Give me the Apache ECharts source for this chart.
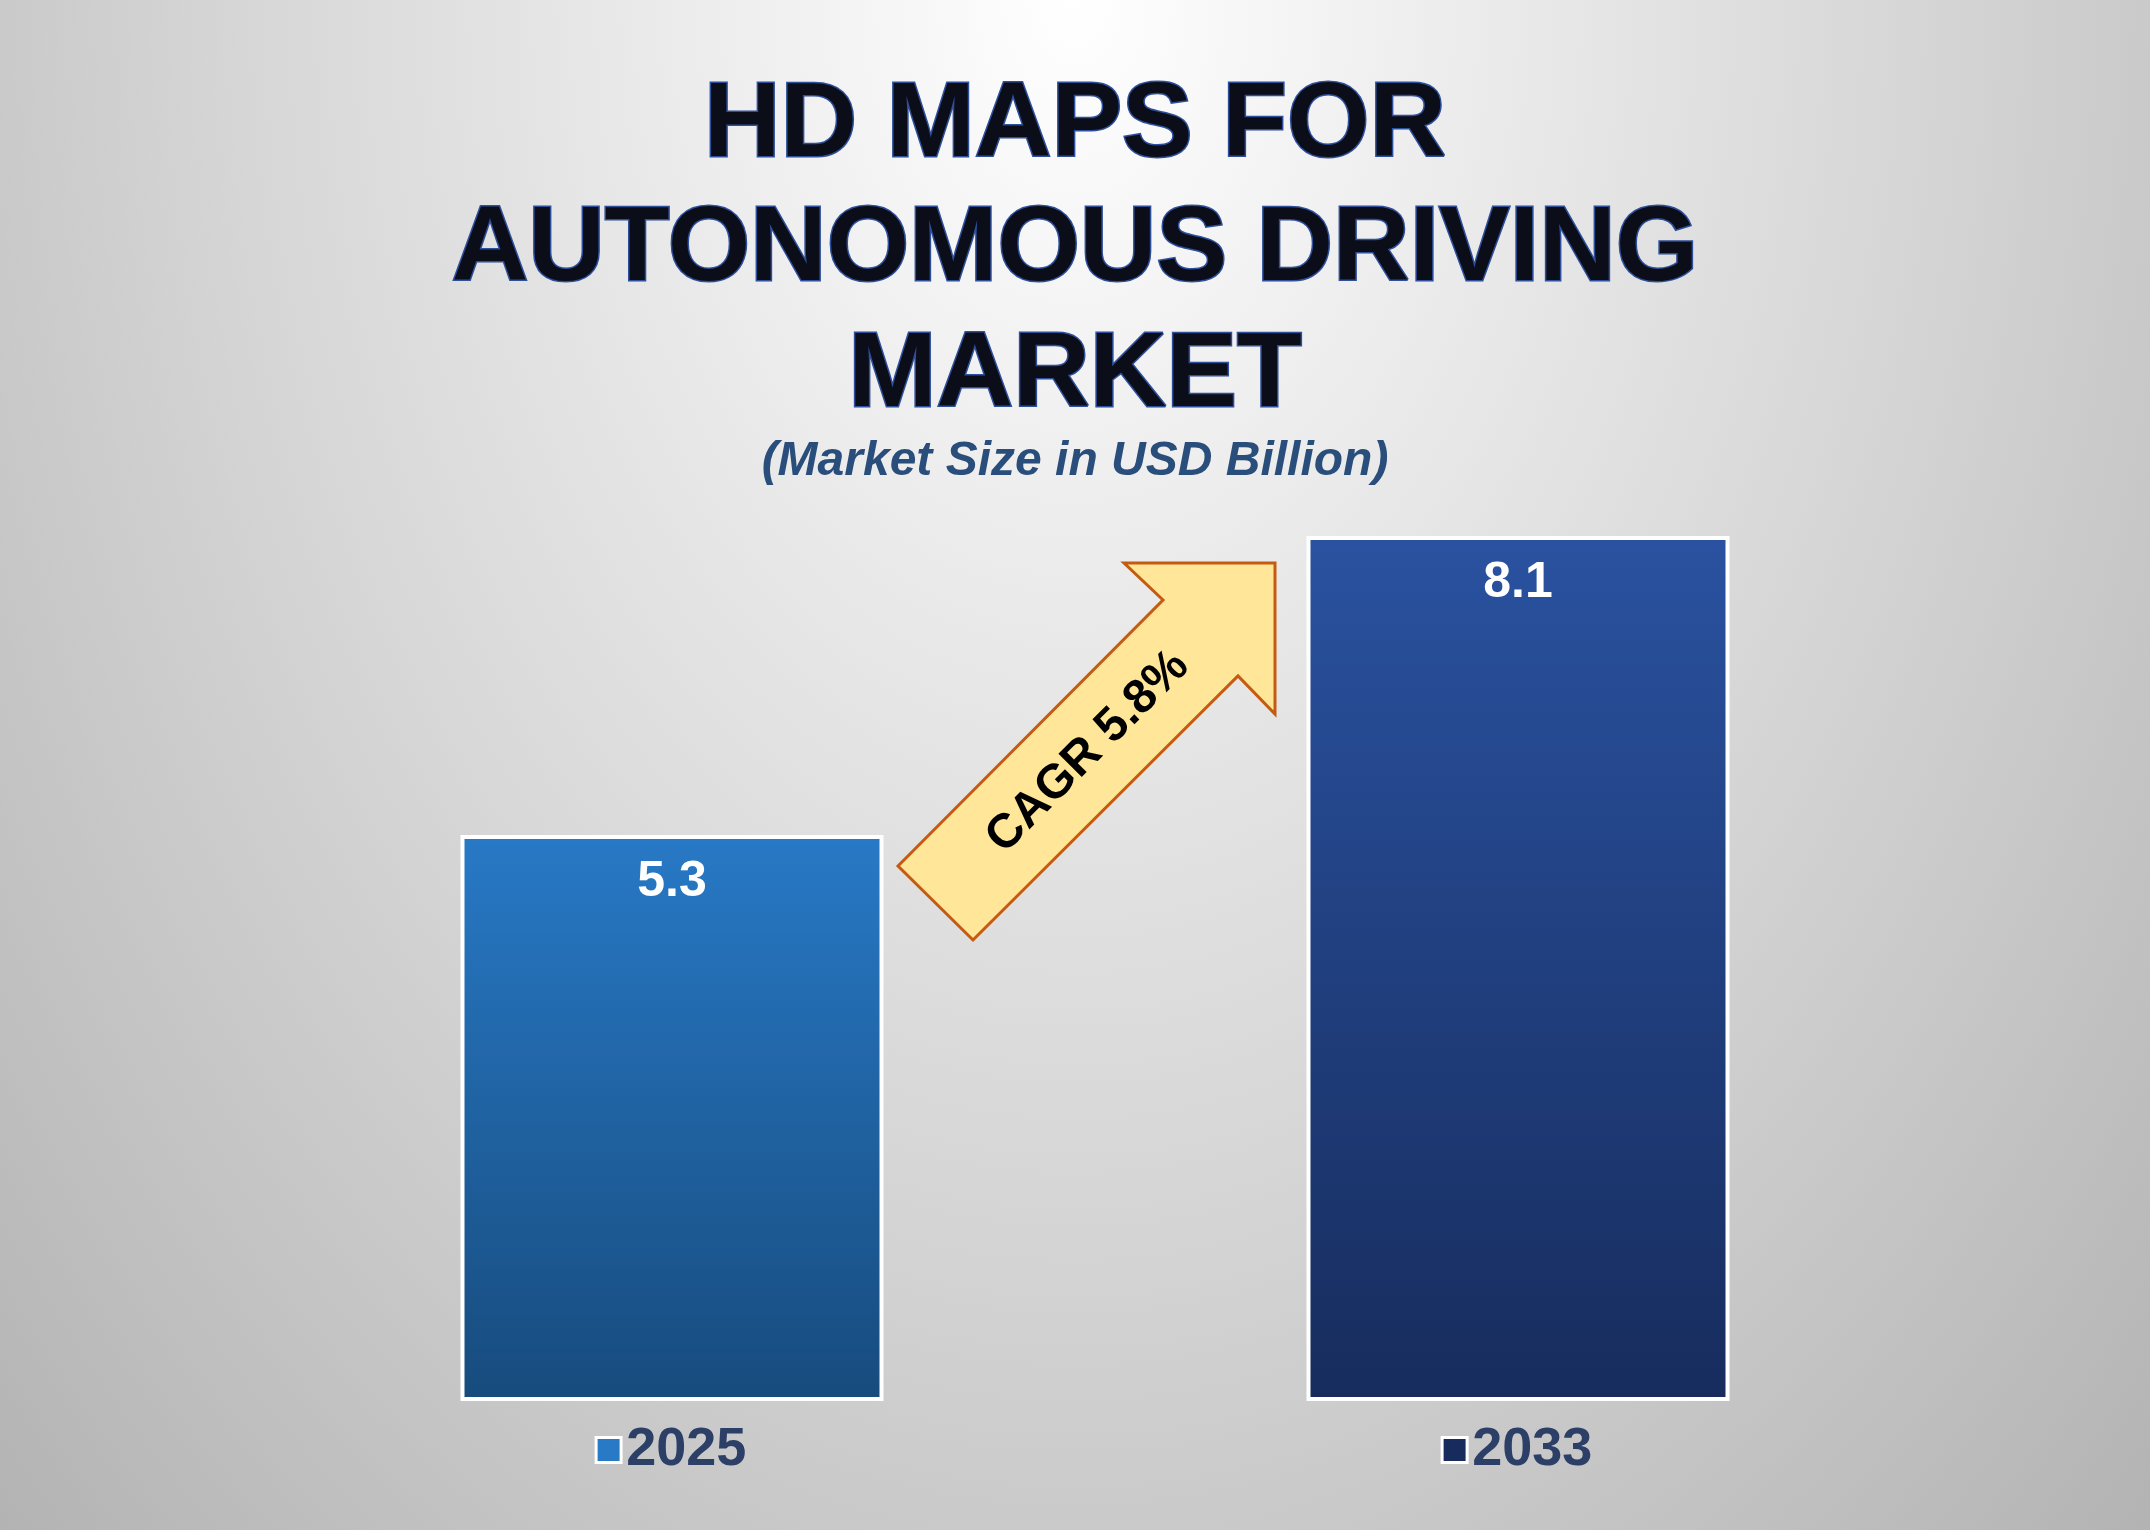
<!DOCTYPE html>
<html>
<head>
<meta charset="utf-8">
<script src="https://cdn.jsdelivr.net/npm/echarts@6/dist/echarts.min.js"></script>
<style>
  html, body { margin: 0; padding: 0; }
  body { background: radial-gradient(ellipse at 50% 0%, #ffffff 0%, #d6d6d6 55%, #b3b3b3 100%); }
  #chart { width: 2150px; height: 1530px; }
</style>
</head>
<body>
<div id="chart"></div>
<script>
// data
var years = ['2025', '2033'];
var marketSize = [5.3, 8.1];
var cagrText = 'CAGR 5.8%';

var barColors = [
  ['#2879c6', '#174b7d'],
  ['#2a52a0', '#172c5d']
];

var chart = echarts.init(document.getElementById('chart'), null, { renderer: 'canvas' });

var titleStyle = {
  fontFamily: 'Liberation Sans, Arial, sans-serif',
  fontWeight: 'bold',
  fontSize: 106,
  fill: '#0b0d18',
  stroke: '#2e4f9c',
  lineWidth: 3,
  textAlign: 'center',
  textVerticalAlign: 'middle',
  shadowColor: 'rgba(0,0,0,0.45)',
  shadowBlur: 6,
  shadowOffsetX: 4,
  shadowOffsetY: 4
};

function titleLine(text, y) {
  return { type: 'text', left: 'center', top: y, style: Object.assign({ text: text }, titleStyle) };
}

var option = {
  backgroundColor: 'transparent',
  grid: { left: 249, right: 209, top: 333, bottom: 129 },
  xAxis: {
    type: 'category',
    data: years,
    axisLine: { show: false },
    axisTick: { show: false },
    axisLabel: {
      margin: 22,
      formatter: function (v, i) { return '{b' + i + '|}  {t|' + v + '}'; },
      rich: {
        b0: { width: 22, height: 22, backgroundColor: barColors[0][0], borderColor: '#fff', borderWidth: 3 },
        b1: { width: 22, height: 22, backgroundColor: barColors[1][1], borderColor: '#fff', borderWidth: 3 },
        t: { fontSize: 54, fontWeight: 'bold', color: '#2c3f66', fontFamily: 'Liberation Sans, Arial, sans-serif' }
      }
    }
  },
  yAxis: { type: 'value', min: 0, max: 10, show: false },
  series: [{
    type: 'bar',
    barWidth: '50%',
    data: marketSize.map(function (v, i) {
      return {
        value: v,
        itemStyle: {
          color: new echarts.graphic.LinearGradient(0, 0, 0, 1, [
            { offset: 0, color: barColors[i][0] },
            { offset: 1, color: barColors[i][1] }
          ]),
          borderColor: '#ffffff',
          borderWidth: 4
        }
      };
    }),
    label: {
      show: true,
      position: 'insideTop',
      distance: 22,
      color: '#ffffff',
      fontSize: 50,
      fontWeight: 'bold',
      fontFamily: 'Liberation Sans, Arial, sans-serif'
    }
  }],
  graphic: [
    titleLine('HD MAPS FOR', 72),
    titleLine('AUTONOMOUS DRIVING', 196),
    titleLine('MARKET', 322),
    {
      type: 'text', left: 'center', top: 438,
      style: {
        text: '(Market Size in USD Billion)',
        fontFamily: 'Liberation Sans, Arial, sans-serif',
        fontStyle: 'italic', fontWeight: 'bold', fontSize: 48,
        fill: '#2a4e7c'
      }
    },
    {
      type: 'polygon',
      shape: { points: [[898, 866], [1163, 600], [1124, 563], [1275, 563], [1275, 714], [1238, 676], [973, 940]] },
      style: { fill: '#ffe699', stroke: '#c55a11', lineWidth: 3 }
    },
    {
      type: 'text',
      x: 1088, y: 752,
      rotation: Math.PI / 4,
      style: {
        text: cagrText,
        fontFamily: 'Liberation Sans, Arial, sans-serif',
        fontWeight: 'bold', fontSize: 48, fill: '#000',
        textAlign: 'center', textVerticalAlign: 'middle'
      }
    }
  ]
};

chart.setOption(option);
</script>
</body>
</html>
